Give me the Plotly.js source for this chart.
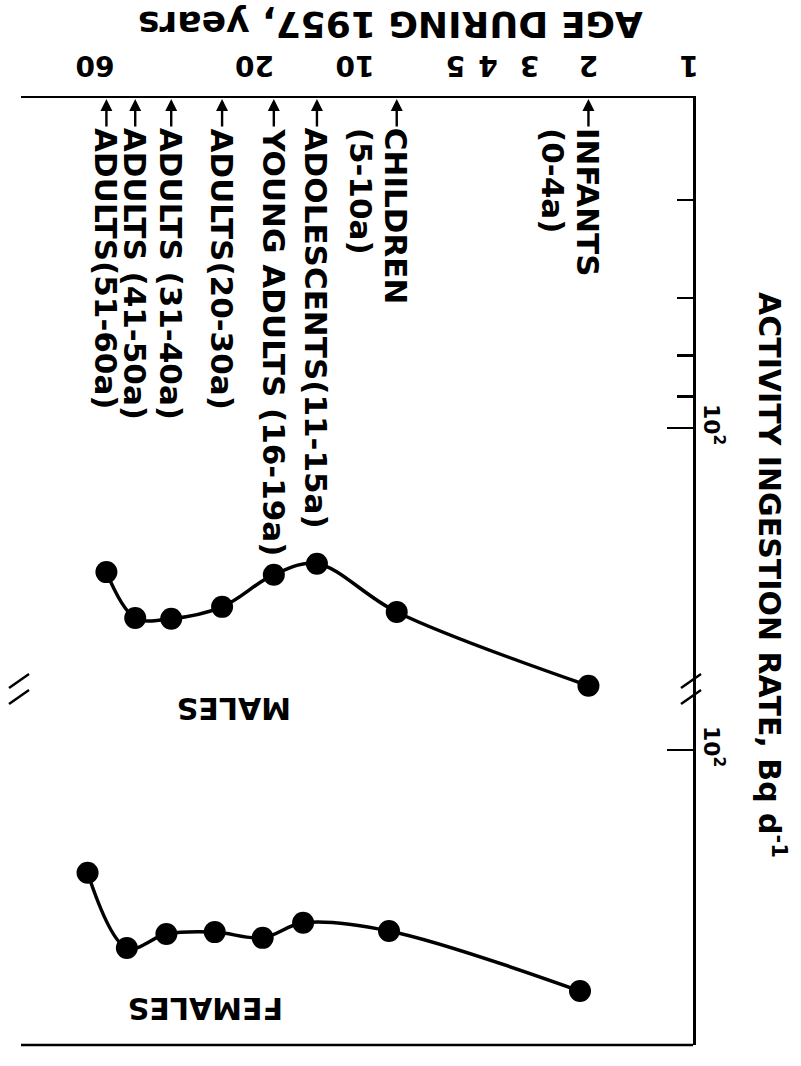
<!DOCTYPE html>
<html><head><meta charset="utf-8">
<script src="https://cdn.plot.ly/plotly-3.0.1.min.js"></script>
<style>html,body{margin:0;padding:0;background:#fff}</style>
</head><body><div id="chart" style="width:801px;height:1066px"></div>
<script>
// ---- data ----
const cohortAge = [2, 7.5, 13, 17.5, 25, 35.5, 45.5, 55.5];
const cohortLine1 = ['INFANTS', 'CHILDREN', 'ADOLESCENTS(11-15a)', 'YOUNG ADULTS (16-19a)',
  'ADULTS(20-30a)', 'ADULTS (31-40a)', 'ADULTS (41-50a)', 'ADULTS(51-60a)'];
const cohortLine2 = ['(0-4a)', '(5-10a)', '', '', '', '', '', ''];
const maleRate = [618, 367, 261, 282, 354, 385, 383, 277];
const femaleAge = [2.12, 7.91, 14.3, 18.9, 26.3, 36.7, 48.2, 63.2];
const femaleRate = [549, 359, 339, 377, 362, 367, 405, 238];
const ageTicks = [1, 2, 3, 4, 5, 10, 20, 60];
const rateMinorTicks = [20, 40, 60, 80];
const rateMajorTicks = [100];
const rateMajorText = ['10<sup>2</sup>'];
const panelNames = ['MALES', 'FEMALES'];

// ---- style ----
const F = 'DejaVu Sans';
const K = '#000';
const BREAK = 0.3749;
const ARROW = 30;

const lineStyle = {color: K, width: 3.5, shape: 'spline', smoothing: 1};
const markerStyle = {color: K, size: 22};

const traces = [
  {x: cohortAge, y: maleRate, xaxis: 'x', yaxis: 'y', mode: 'lines+markers',
   line: lineStyle, marker: markerStyle, cliponaxis: false, name: panelNames[0]},
  {x: femaleAge, y: femaleRate, xaxis: 'x', yaxis: 'y2', mode: 'lines+markers',
   line: lineStyle, marker: markerStyle, cliponaxis: false, name: panelNames[1]}
];

const labelFont = {family: F, size: 31, color: K, weight: 'bold'};
const annotations = [];
cohortAge.forEach((a, i) => {
  annotations.push({
    x: Math.log10(a), xref: 'x', y: 1, yref: 'paper', text: '',
    showarrow: true, ax: 0, ay: ARROW, axref: 'pixel', ayref: 'pixel',
    arrowhead: 2, arrowsize: 1, arrowwidth: 2.4, arrowcolor: K, standoff: 1
  });
  annotations.push({
    x: Math.log10(a), xref: 'x', y: 1, yref: 'paper',
    text: cohortLine1[i], textangle: 90, showarrow: false,
    yshift: -ARROW + 2, xanchor: 'center', yanchor: 'top', font: labelFont
  });
  if (cohortLine2[i]) {
    annotations.push({
      x: Math.log10(a), xref: 'x', y: 1, yref: 'paper',
      text: cohortLine2[i], textangle: 90, showarrow: false,
      xshift: -35, yshift: -ARROW + 2, xanchor: 'center', yanchor: 'top', font: labelFont
    });
  }
});
annotations.push(
  {x: 0.549, y: 1.0770, xref: 'paper', yref: 'paper', text: 'AGE DURING 1957, years',
   textangle: 180, showarrow: false, xanchor: 'center', yanchor: 'middle',
   font: {family: F, size: 36, color: K, weight: 'bold'}},
  {x: 1.1176, y: 0.4963, xref: 'paper', yref: 'paper', text: 'ACTIVITY INGESTION RATE, Bq d<sup>-1</sup>',
   textangle: 90, showarrow: false, xanchor: 'center', yanchor: 'middle',
   font: {family: F, size: 30, color: K, weight: 'bold'}},
  {x: 0.317, y: 0.3559, xref: 'paper', yref: 'paper', text: panelNames[0],
   textangle: 180, showarrow: false, xanchor: 'center', yanchor: 'middle',
   font: {family: F, size: 30, color: K, weight: 'bold'}},
  {x: 0.2753, y: 0.0391, xref: 'paper', yref: 'paper', text: panelNames[1],
   textangle: 180, showarrow: false, xanchor: 'center', yanchor: 'middle',
   font: {family: F, size: 30, color: K, weight: 'bold'}}
);

function breakMarks(xa) {
  const base = {type: 'line', xref: 'paper', yref: 'paper', xsizemode: 'pixel', ysizemode: 'pixel',
    xanchor: xa, yanchor: BREAK, line: {color: K, width: 2.5}};
  return [
    Object.assign({}, base, {x0: -12, y0: 2, x1: 8, y1: 16}),
    Object.assign({}, base, {x0: -12, y0: -14, x1: 8, y1: 0})
  ];
}
const shapes = [
  {type: 'line', xref: 'paper', yref: 'paper', x0: 0, x1: 1, y0: 0, y1: 0, line: {color: K, width: 2.5}}
].concat(breakMarks(1), breakMarks(0));

const yBase = {
  type: 'log', side: 'right', anchor: 'x', showgrid: false, zeroline: false,
  showline: true, linecolor: K, linewidth: 2.5,
  ticks: 'inside', ticklen: 26, tickwidth: 2.5, tickcolor: K,
  tickmode: 'array', tickvals: rateMajorTicks, ticktext: rateMajorText, tickangle: 90,
  tickfont: {family: F, size: 22, color: K, weight: 'bold'}
};

const layout = {
  width: 801, height: 1066, margin: {l: 21, r: 108, t: 98, b: 21},
  paper_bgcolor: '#fff', plot_bgcolor: '#fff', showlegend: false,
  xaxis: {type: 'log', range: [2, -0.012], side: 'top', anchor: 'y',
    showgrid: false, zeroline: false, showline: true, linecolor: K, linewidth: 2.5,
    ticks: '', tickmode: 'array', tickvals: ageTicks, ticktext: ageTicks.map(String),
    tickangle: 180, ticklabelstandoff: 0,
    tickfont: {family: F, size: 28, color: K, weight: 'bold'}},
  yaxis: Object.assign({}, yBase, {domain: [BREAK, 1], range: [2.804, 0.988],
    minor: {tickmode: 'array', tickvals: rateMinorTicks, ticks: 'inside', ticklen: 16,
      tickwidth: 2.5, tickcolor: K, showgrid: false}}),
  yaxis2: Object.assign({}, yBase, {domain: [0, BREAK], range: [2.905, 1.816]}),
  annotations: annotations,
  shapes: shapes
};

Plotly.newPlot('chart', traces, layout, {displayModeBar: false, staticPlot: true});
</script>
</body></html>
